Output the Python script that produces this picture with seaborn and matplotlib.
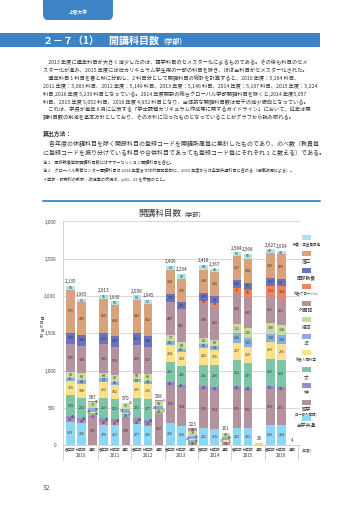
import pandas as pd
import seaborn as sns
import matplotlib.pyplot as plt
from matplotlib.patches import Rectangle, FancyBboxPatch
from matplotlib.lines import Line2D

# data, bar order: 2010 spring, fall, full-year, 2011 ...
years = ["2010", "2011", "2012", "2013", "2014", "2015", "2016"]
terms = ["春学期", "秋学期", "通年"]

zengaku   = [313, 290, 0, 270, 267, 0, 277, 259, 0, 295, 259, 0, 222, 215, 0, 225, 223, 0, 269, 264, 0]
gogaku    = [34, 32, 376, 44, 37, 378, 42, 40, 419, 503, 504, 38, 519, 514, 34, 519, 502, 6, 476, 471, 0]
shin      = [46, 43, 10, 50, 44, 0, 43, 43, 0, 48, 48, 0, 46, 53, 0, 49, 44, 0, 51, 44, 0]
bun       = [273, 272, 48, 269, 273, 33, 272, 277, 40, 269, 245, 26, 291, 296, 9, 352, 327, 0, 365, 360, 0]
ningen    = [199, 188, 14, 212, 182, 20, 205, 200, 8, 224, 196, 22, 222, 195, 20, 227, 219, 7, 215, 216, 0]
hou       = [38, 49, 50, 52, 46, 54, 51, 44, 54, 56, 41, 36, 56, 54, 50, 126, 115, 7, 118, 118, 0]
keizai    = [78, 88, 73, 64, 92, 75, 68, 88, 68, 77, 84, 70, 86, 82, 48, 121, 136, 6, 140, 138, 0]
gaikokugo = [370, 368, 16, 389, 376, 10, 390, 367, 9, 447, 442, 31, 470, 461, 0, 416, 425, 0, 361, 367, 0]
global_   = [0, 0, 0, 0, 0, 0, 0, 0, 0, 0, 0, 0, 15, 34, 0, 77, 95, 0, 133, 154, 4]
kokusai   = [158, 148, 0, 153, 145, 0, 157, 148, 0, 110, 101, 0, 109, 93, 0, 104, 93, 0, 107, 97, 0]
riko      = [571, 435, 0, 455, 418, 0, 442, 422, 0, 314, 306, 0, 318, 321, 0, 317, 324, 0, 343, 333, 0]
kyoyo     = [55, 52, 0, 55, 50, 0, 61, 57, 0, 63, 68, 0, 64, 49, 0, 51, 65, 0, 49, 42, 0]

faculties = ["全学共通", "語学", "神", "文", "総合人間科学", "法", "経済", "外国語",
             "総合グローバル", "国際教養", "理工", "教養・学芸員課程"]
colors = ["#8fd6f5", "#b4929e", "#9b86cf", "#7ec4a6", "#fde08c", "#86afe0",
          "#c9dc9e", "#b4929e", "#f2845c", "#6a72c2", "#d8a27a", "#aee3ea"]

bar_ids = [y + t for y in years for t in terms]
table = pd.DataFrame(dict(zip(faculties, [zengaku, gogaku, shin, bun, ningen, hou, keizai,
                                          gaikokugo, global_, kokusai, riko, kyoyo])),
                     index=bar_ids)
cum = table.cumsum(axis=1)
totals = table.sum(axis=1)

sns.set_style("white")
plt.rcParams['font.family'] = ['Noto Sans CJK JP', 'DejaVu Sans']

W, H = 360, 509
fig = plt.figure(figsize=(W / 100, H / 100), dpi=100)
def fx(x): return x / W
def fy(y): return 1 - y / H

blue = "#3d84c6"
txt = "#333333"

# page header
fig.patches.append(FancyBboxPatch((fx(43), fy(20)), fx(70), 30 / H, boxstyle="round,pad=0,rounding_size=0.012",
                                  transform=fig.transFigure, fc=blue, ec="none"))
fig.text(fx(78), fy(13), "上智大学", color="white", fontsize=3.4, ha="center", va="center", fontweight="bold")
fig.patches.append(Rectangle((0, fy(47)), fx(320), 14 / H, transform=fig.transFigure, fc=blue, ec="none"))
fig.text(fx(43), fy(40.5), "２－７（1）　開講科目数", color="white", fontsize=7.2, fontweight="bold", va="center")
fig.text(fx(159), fy(41), "（学部）", color="white", fontsize=4.9, fontweight="bold", va="center")

body = [
    "　2013 年度に通年科目が大きく減少したのは、語学科目のセメスター化によるものである。その後も科目のセメ",
    "スター化が進み、2015 年度には旧カリキュラム学生用の一部の科目を除き、ほぼ全科目がセメスター化された。",
    "　通年科目 1 科目を春と秋に分割し、2 科目分として開講科目の総計を計算すると、2010 年度：5,264 科目、",
    "2011 年度：5,083 科目、2012 年度：5,149 科目、2013 年度：5,146 科目、2014 年度：5,107 科目、2015 年度：5,224",
    "科目,2016 年度 5,239 科目となっている。2014 年度開設の総合グローバル学部開講科目を除くと,2014 年度5,057",
    "科目、2015 年度 5,052 科目、2016 年度 4,952 科目となり、全体的な開講科目数は若干の減少傾向となっている。",
    "　これは、学長が毎年 6 月に公表する「学士課程カリキュラム作成等に関するガイドライン」において、近年は開",
    "講科目数の削減を基本方針としており、その方針に沿ったものとなっていることがグラフから読み取れる。",
]
for i, line in enumerate(body):
    fig.text(fx(43), fy(62.5 + 7.9 * i), line, fontsize=3.75, color=txt, va="center")

fig.text(fx(43), fy(134), "算出方法：", fontsize=4.2, color=txt, va="center", fontweight="bold")
method = [
    "　各年度の休講科目を除く開設科目の登録コードを開講所属毎に集計したものであり、のべ数（教員毎",
    "に登録コードを振り分けている科目や合併科目であっても登録コード毎にそれぞれ 1 と数える）である。",
]
for i, line in enumerate(method):
    fig.text(fx(43), fy(144 + 9 * i), line, fontsize=4.3, color=txt, va="center")
notes = [
    (162, "注 1．国際教養学部開講科目数にはサマーセッション開講科目を含む。"),
    (170, "注 2．グローバル教育センター開講科目は 2014 年度までは外国語学部に、2015 年度からは全学共通科目に含める（組織改編による）。"),
    (179, "＊学部・研究科の新設・改組等の状況は、p20、22 を参照のこと。"),
]
for y, line in notes:
    fig.text(fx(43), fy(y), line, fontsize=3.0, color=txt, va="center")

fig.add_artist(Line2D([fx(43), fx(320)], [fy(201), fy(201)], color="#4a90d0", lw=1.4))
fig.text(fx(181), fy(213), "開講科目数", fontsize=6.2, color=txt, ha="right", va="center")
fig.text(fx(181), fy(214), "（学部）", fontsize=4.4, color=txt, ha="left", va="center")

# chart
ax = fig.add_axes([fx(63), fy(445), (300 - 63) / W, (445 - 221.5) / H])
for fac, col in reversed(list(zip(faculties, colors))):
    sns.barplot(x=bar_ids, y=cum[fac].values, order=bar_ids, color=col, saturation=1,
                width=0.77, errorbar=None, linewidth=0, ax=ax)

ax.set_xlim(-0.667, 20.68)
ax.set_ylim(0, 3000)
ax.set_yticks(range(0, 3001, 500))
ax.set_yticklabels([f"{v:,}" for v in range(0, 3001, 500)], fontsize=3.3, color="#444444")
ax.tick_params(axis="y", length=0, pad=5)
ax.set_xticks([])
ax.set_xlabel("")
ax.set_ylabel("")
ax.yaxis.grid(True, color="#d2d2d2", lw=0.6)
ax.set_axisbelow(True)
for s in ["top", "right"]:
    ax.spines[s].set_visible(False)
for s in ["left", "bottom"]:
    ax.spines[s].set_color("#cccccc")
    ax.spines[s].set_linewidth(0.6)

# segment labels; small neighbouring segments get staggered sideways
px_per_unit = (445 - 221.5) / 3000
for i, bid in enumerate(bar_ids):
    full_year = bid.endswith("通年")
    last_y, last_dx = None, 0.0
    for fac in faculties:
        v = table.loc[bid, fac]
        if v == 0 or (full_year and (v < 8 or totals[bid] < 50)) or (not full_year and v < 15):
            continue
        mid = cum.loc[bid, fac] - v / 2
        dx = 0.0
        if last_y is not None and (mid - last_y) * px_per_unit < 3.6:
            dx = 0.24 if last_dx <= 0 else -0.24
            if full_year:
                dx *= 1.6
        ax.text(i + dx, mid, str(v), fontsize=2.6, color=txt, ha="center", va="center")
        last_y, last_dx = mid, dx
    ax.text(i, totals[bid] + 22, f"{totals[bid]:,}", fontsize=3.3, color=txt, ha="center", va="bottom")

# x-axis category labels and group separators
xt = ax.get_xaxis_transform()
for i, bid in enumerate(bar_ids):
    ax.text(i, -0.022, terms[i % 3], transform=xt, fontsize=2.5, color="#444444", ha="center", va="center")
for g, y in enumerate(years):
    ax.text(g * 3 + 1, -0.046, y, transform=xt, fontsize=3.4, color="#444444", ha="center", va="center")
for b in [-0.667, 2.5, 5.5, 8.5, 11.5, 14.5, 17.5, 20.5]:
    ax.plot([b, b], [0, -0.065], transform=xt, color="#cccccc", lw=0.6, clip_on=False)
fig.text(fx(302), fy(451), "(年度)", fontsize=2.6, color="#444444", va="center")

# vertical y-axis label
fig.text(fx(42), fy(327), "開\n講\n科\n目\n数", fontsize=2.4, color="#444444", ha="center", va="center",
         linespacing=1.0)

# legend, top to bottom
legend_labels = ["教養・学芸員課程", "理工", "国際教養", "総合グローバル", "外国語", "経済", "法",
                 "総合人間科学", "文", "神", "語学", "全学共通"]
legend_cols = list(reversed(colors))
for k, (lab, col) in enumerate(zip(legend_labels, legend_cols)):
    py = 237 + k * 16.5
    fig.patches.append(Rectangle((fx(302), fy(py + 2.5)), 9 / W, 5 / H, transform=fig.transFigure,
                                 fc=col, ec="none"))
    fs = 2.5 if len(lab) > 4 else 3.4
    fig.text(fx(306.5), fy(py + 7.5), lab, fontsize=fs, color=txt, ha="center", va="center")
    if lab == "語学":
        fig.text(fx(306.5), fy(py + 12.5), "(旧一般外国語)", fontsize=2.4, color=txt, ha="center", va="center")

fig.text(fx(43), fy(488), "32", fontsize=5, color="#555555", va="center")

fig.savefig("out.png", dpi=100)
